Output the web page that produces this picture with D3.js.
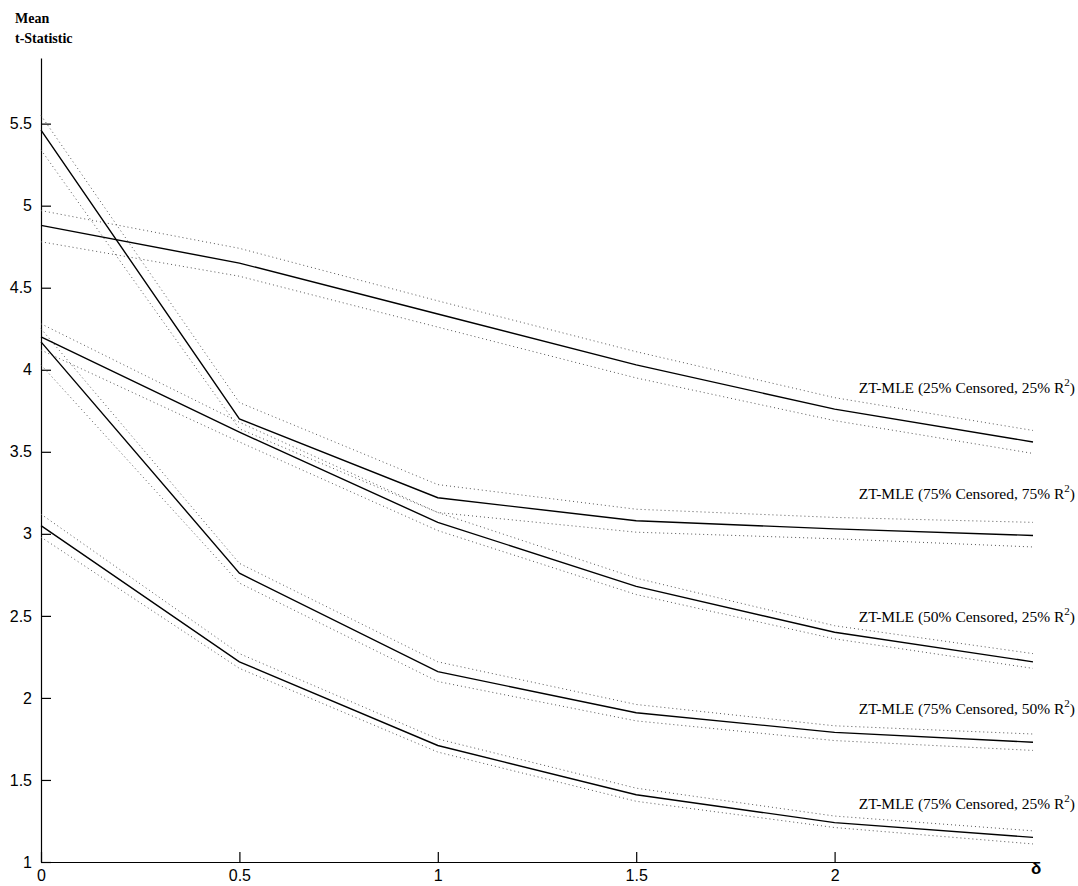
<!DOCTYPE html>
<html>
<head>
<meta charset="utf-8">
<title>Mean t-Statistic</title>
<script src="https://cdnjs.cloudflare.com/ajax/libs/d3/7.8.5/d3.min.js"></script>
<style>
body { margin:0; background:#fff; }
.tick text { font-family:"Liberation Sans", Arial, sans-serif; font-size:16px; fill:#000; }
.lbl { font-family:"Liberation Serif", "Times New Roman", serif; font-size:15.5px; fill:#000; }
.ttl { font-family:"Liberation Serif", "Times New Roman", serif; font-size:14px; font-weight:bold; }
</style>
</head>
<body>
<div id="chart"></div>
<script>
// delta values
var deltas = [0, 0.5, 1, 1.5, 2, 2.5];

// series labels
var labels = [
    "ZT-MLE (25% Censored, 25% R",
    "ZT-MLE (75% Censored, 75% R",
    "ZT-MLE (50% Censored, 25% R",
    "ZT-MLE (75% Censored, 50% R",
    "ZT-MLE (75% Censored, 25% R"
];

// mean t-statistic, one row per series
var means = [
    [4.88, 4.65, 4.34, 4.03, 3.76, 3.56],
    [5.46, 3.70, 3.22, 3.08, 3.03, 2.99],
    [4.20, 3.62, 3.07, 2.68, 2.40, 2.22],
    [4.17, 2.76, 2.16, 1.91, 1.79, 1.73],
    [3.05, 2.22, 1.71, 1.41, 1.24, 1.15]
];
var upper = [
    [4.97, 4.74, 4.42, 4.11, 3.83, 3.63],
    [5.55, 3.80, 3.30, 3.15, 3.10, 3.07],
    [4.28, 3.68, 3.13, 2.73, 2.44, 2.27],
    [4.25, 2.82, 2.22, 1.96, 1.83, 1.78],
    [3.12, 2.27, 1.75, 1.45, 1.28, 1.19]
];
var lower = [
    [4.78, 4.57, 4.26, 3.95, 3.69, 3.49],
    [5.34, 3.64, 3.13, 3.01, 2.97, 2.92],
    [4.12, 3.56, 3.02, 2.63, 2.36, 2.18],
    [4.03, 2.70, 2.10, 1.86, 1.74, 1.68],
    [2.98, 2.18, 1.67, 1.37, 1.21, 1.11]
];
// where each label sits (t value of baseline)
var labelY = [3.86, 3.21, 2.46, 1.90, 1.32];

var xTicks = [0, 0.5, 1, 1.5, 2];
var yTicks = [1, 1.5, 2, 2.5, 3, 3.5, 4, 4.5, 5, 5.5];

var width = 1078, height = 886;

var svg = d3.select('#chart').append('svg')
    .attr('width', width)
    .attr('height', height);

var x = d3.scaleLinear().domain([0, 2.5]).range([41, 1033]);
var y = d3.scaleLinear().domain([1, 5.9]).range([862, 58]);

svg.append('g')
    .attr('transform', 'translate(0,' + y(1) + ')')
    .call(d3.axisBottom(x).tickValues(xTicks).tickFormat(d3.format('')).tickSizeInner(-10).tickSizeOuter(0).tickPadding(8))
    .call(function(g) { g.selectAll('line, path').attr('stroke', '#000').attr('stroke-width', 1.2); });

svg.append('g')
    .attr('transform', 'translate(' + x(0) + ',0)')
    .call(d3.axisLeft(y).tickValues(yTicks).tickFormat(d3.format('')).tickSizeInner(-10).tickSizeOuter(0).tickPadding(9))
    .call(function(g) { g.selectAll('line, path').attr('stroke', '#000').attr('stroke-width', 1.2); });

svg.append('text')
    .attr('x', x(2.5) - 2)
    .attr('y', y(1) + 12)
    .attr('font-family', '"Liberation Sans", Arial, sans-serif')
    .attr('font-size', 17)
    .attr('font-weight', 'bold')
    .text('δ');

svg.append('text').attr('class', 'ttl').attr('x', 15).attr('y', 23).text('Mean');
svg.append('text').attr('class', 'ttl').attr('x', 15).attr('y', 43).text('t-Statistic');

var line = d3.line()
    .x(function(d, i) { return x(deltas[i]); })
    .y(function(d) { return y(d); });

// dotted bands
[upper, lower].forEach(function(band) {
    svg.selectAll(null)
        .data(band)
        .enter().append('path')
        .attr('d', line)
        .attr('fill', 'none')
        .attr('stroke', '#555')
        .attr('stroke-width', 1)
        .attr('stroke-dasharray', '1,3');
});

// mean lines
svg.selectAll('.mean')
    .data(means)
    .enter().append('path')
    .attr('class', 'mean')
    .attr('d', line)
    .attr('fill', 'none')
    .attr('stroke', '#000')
    .attr('stroke-width', 1.4);

// labels
labels.forEach(function(t, i) {
    var txt = svg.append('text')
        .attr('class', 'lbl')
        .attr('x', 1075)
        .attr('y', y(labelY[i]))
        .attr('text-anchor', 'end');
    txt.append('tspan').text(t);
    txt.append('tspan').attr('dy', -7).attr('font-size', 11).text('2');
    txt.append('tspan').attr('dy', 7).text(')');
});
</script>
</body>
</html>
